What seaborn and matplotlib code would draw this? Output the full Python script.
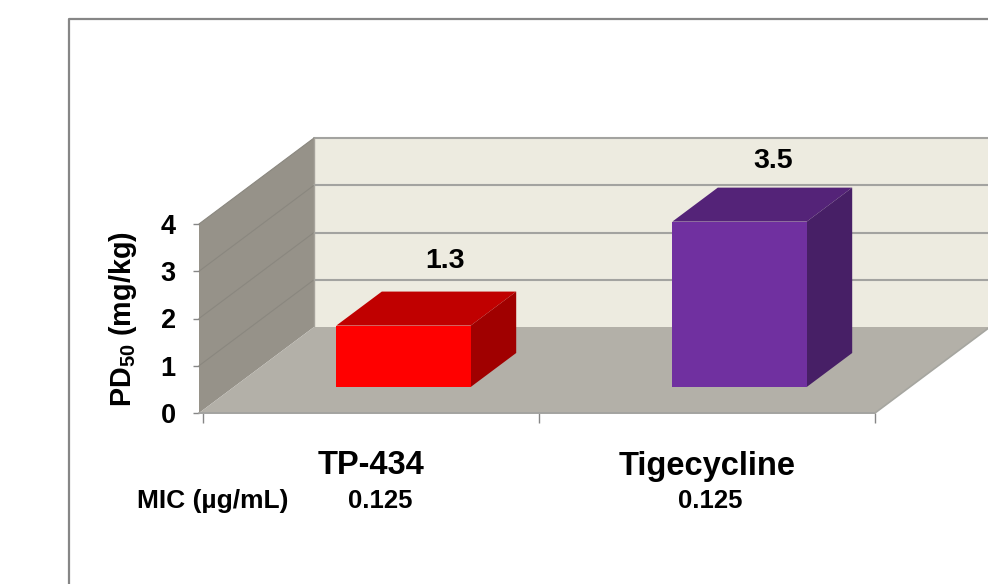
import matplotlib
matplotlib.use("Agg")
import matplotlib.pyplot as plt
import seaborn as sns
import pandas as pd
from matplotlib.patches import Polygon
from matplotlib.lines import Line2D
from matplotlib.transforms import IdentityTransform

drugs = ["TP-434", "Tigecycline"]
pd50 = [1.3, 3.5]
mic = ["0.125", "0.125"]
front_colors = ["#FF0000", "#7030A0"]
top_colors = ["#C00000", "#542378"]
side_colors = ["#A00000", "#471F66"]
y_ticks = [0, 1, 2, 3, 4]

W, H = 988, 584
sns.set_theme(style="white")
plt.rcParams["font.family"] = ["Liberation Sans", "DejaVu Sans"]
plt.rcParams["mathtext.fontset"] = "custom"
plt.rcParams["mathtext.bf"] = "Liberation Sans:bold"
plt.rcParams["mathtext.rm"] = "Liberation Sans:bold"
plt.rcParams["mathtext.default"] = "bf"

fig = plt.figure(figsize=(W / 100, H / 100), dpi=100, facecolor="white")
ax = fig.add_axes([203 / W, (H - 413) / H, 672 / W, 189 / H])
ax.patch.set_visible(False)

df = pd.DataFrame({"drug": drugs, "pd50": pd50})
sns.barplot(data=df, x="drug", y="pd50", hue="drug", order=drugs, hue_order=drugs,
            palette=front_colors, width=0.4, legend=False, saturation=1, ax=ax,
            linewidth=0, zorder=3)
bars = list(ax.patches)
ax.set_xlim(-0.5, 1.5)
ax.set_ylim(0, 4)

# oblique projection, in pixels
DEPTH = (115, 86)
BAR_DEPTH = (45.5, 34)
BAR_SHIFT = (32.5, 26)
GRID = "#A3A3A0"
BORDER = "#868686"
IDENT = IdentityTransform()


def px(x, y):
    return tuple(ax.transData.transform((x, y)))


def poly(points, color, z=1, edge=None, lw=0):
    ax.add_artist(Polygon(points, closed=True, facecolor=color, edgecolor=edge or color,
                          linewidth=lw, transform=IDENT, clip_on=False, zorder=z))


def seg(p, q, color=GRID, lw=1.4, z=2):
    ax.add_artist(Line2D([p[0], q[0]], [p[1], q[1]], color=color, lw=lw,
                         transform=IDENT, clip_on=False, zorder=z))


x0, x1 = ax.get_xlim()
fl = px(x0, 0)
fl = (fl[0] - 4, fl[1])
fr = px(x1, 0)
tl = (fl[0], px(x0, 4)[1])
up = lambda p: (p[0] + DEPTH[0], p[1] + DEPTH[1])
right_far = up(fr)

# back wall, floor and side wall
poly([up(fl), right_far, (right_far[0], up(tl)[1]), up(tl)], "#EDEBE0", z=0)
poly([fl, tl, up(tl), up(fl)], "#969289", z=0.5)
poly([fl, fr, up(fr), up(fl)], "#B3B0A8", z=1)

for v in y_ticks:
    y = px(x0, v)[1]
    a = (fl[0], y)
    b = up(a)
    if v > 0:
        seg(b, (right_far[0], b[1]), lw=1.5, z=0.8)
        seg(a, b, color="#8A877F", lw=0.8, z=0.8)
seg(fl, fr, lw=1.4)
seg(fr, up(fr), color="#A6A6A0", lw=1.2)
seg(up(fl), up(tl), color="#A6A39B", lw=1.0, z=0.9)

# 3D bars: the library's front face moved onto the floor, with top and side faces
for bar, top_c, side_c in zip(bars, top_colors, side_colors):
    xa, xb = bar.get_x(), bar.get_x() + bar.get_width()
    h = bar.get_height()
    bl, br = px(xa, 0), px(xb, 0)
    tl_b, tr_b = px(xa, h), px(xb, h)
    shift = lambda p, o=(0, 0): (p[0] + BAR_SHIFT[0] + o[0], p[1] + BAR_SHIFT[1] + o[1])
    poly([shift(bl), shift(br), shift(tr_b), shift(tl_b)], bar.get_facecolor(), z=3.2)
    poly([shift(tl_b), shift(tr_b), shift(tr_b, BAR_DEPTH), shift(tl_b, BAR_DEPTH)], top_c, z=3)
    poly([shift(br), shift(br, BAR_DEPTH), shift(tr_b, BAR_DEPTH), shift(tr_b)], side_c, z=3)
    bar.set_visible(False)

# axes furniture
for s in ax.spines.values():
    s.set_visible(False)
ax.spines["left"].set_position(("outward", 2.88))
ax.set_yticks(y_ticks)
ax.set_yticklabels([str(v) for v in y_ticks], fontsize=19.5, fontweight="bold", color="black")
ax.tick_params(axis="y", left=True, length=4.3, width=1, color=BORDER, pad=12.5, labelcolor="black")
ax.set_xticks([-0.5, 0.5, 1.5], ["", "", ""])
ax.set_xticks([0, 1], drugs, minor=True, fontsize=23.5, fontweight="bold", color="black")
ax.tick_params(axis="x", which="major", bottom=True, length=7.5, width=1, color=BORDER)
ax.tick_params(axis="x", which="minor", bottom=False, length=0, pad=27)
ax.set_xlabel("")
ax.set_ylabel(r"PD$_{50}$ (mg/kg)", fontsize=20.7, fontweight="bold", color="black", va="center")
ax.yaxis.set_label_coords((123 - 203) / 672, (413 - 319.5) / 189)

# value labels and MIC row
label_shift = [(74, 91), (66, 87)]
for i, (v, sh) in enumerate(zip(pd50, label_shift)):
    ax.annotate(f"{v:.1f}", xy=(i, v), xytext=sh,
                textcoords="offset pixels", ha="center", va="center",
                fontsize=20.5, fontweight="bold", color="black", zorder=5, annotation_clip=False)
for i, (m, dx) in enumerate(zip(mic, (9, 3))):
    ax.annotate(m, xy=(i, 0), xytext=(dx, -88), textcoords="offset pixels", ha="center",
                va="center", fontsize=18.5, fontweight="bold", color="black", annotation_clip=False)
ax.annotate("MIC (µg/mL)", xy=(0, 0), xytext=(211.5 - 370 + 0, -88), textcoords="offset pixels",
            ha="center", va="center", fontsize=19, fontweight="bold", color="black",
            annotation_clip=False)

# outer chart frame, running off the picture
fig.add_artist(Line2D([69 / W, 69 / W, 1], [0, (H - 19) / H, (H - 19) / H], color=BORDER, lw=1.6,
                      transform=fig.transFigure))

fig.savefig("out.png", dpi=100, facecolor="white")
